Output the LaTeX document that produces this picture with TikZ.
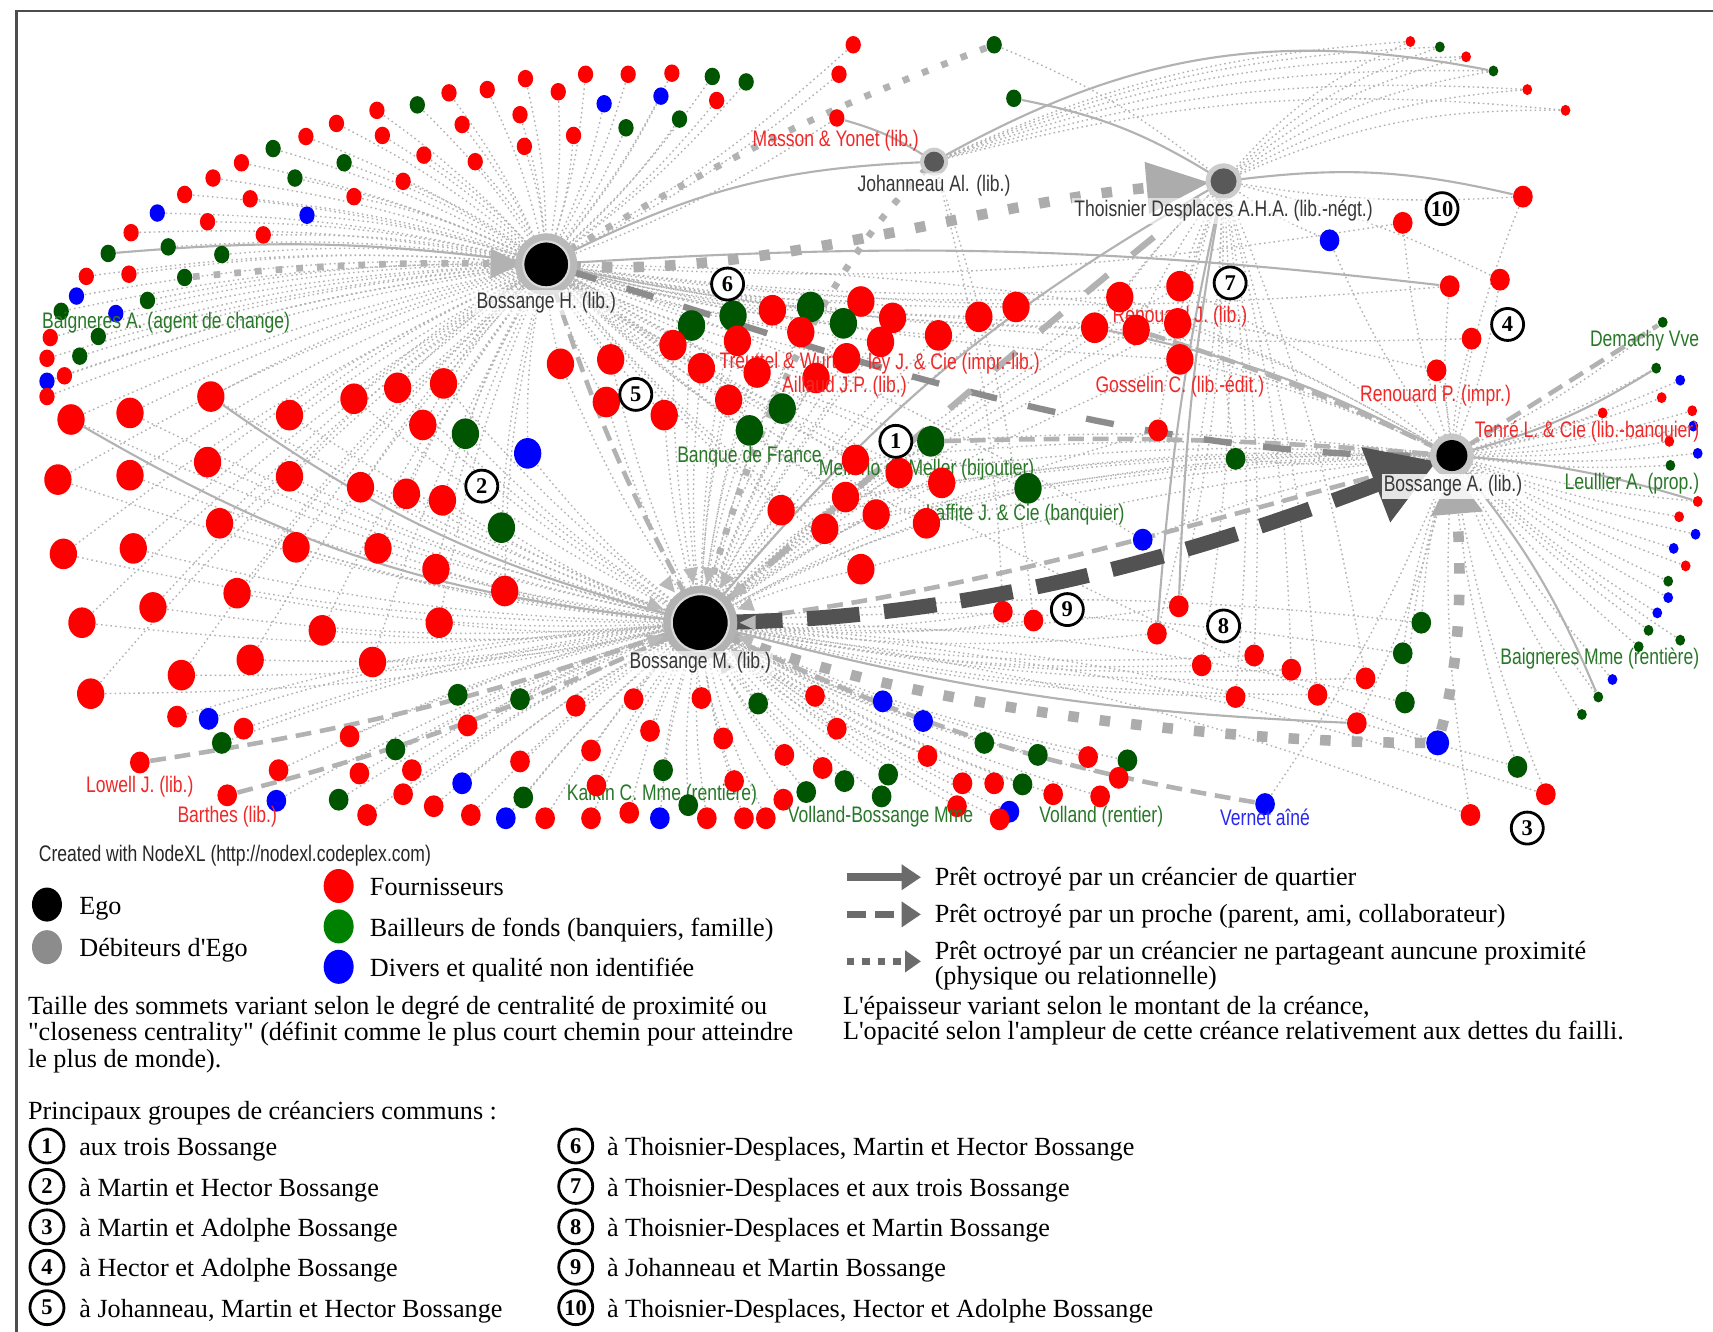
\documentclass[tikz,border=0pt]{standalone}
\usepackage{fontspec}
\setmainfont{Liberation Serif}
\newfontfamily\labfam[FakeStretch=0.78]{Liberation Sans}
\font\lgraw="Liberation Serif" at 7.45pt
\usetikzlibrary{arrows.meta,shapes.geometric}
\pgfdeclarelayer{bg}\pgfdeclarelayer{lab}\pgfdeclarelayer{top}
\pgfsetlayers{bg,lab,main,top}
\definecolor{cR}{RGB}{255,0,0}
\definecolor{cG}{RGB}{0,85,0}
\definecolor{cB}{RGB}{0,0,255}
\definecolor{tR}{RGB}{240,40,40}
\definecolor{tG}{RGB}{40,120,40}
\definecolor{tB}{RGB}{40,40,240}
\definecolor{lgG}{RGB}{0,128,0}
\definecolor{hubtxt}{RGB}{55,55,55}
\newcommand\labsz{\labfam\fontsize{6.4}{7.5}\selectfont}
\newcommand\numsz{\fontsize{6.4}{6.4}\selectfont\bfseries}
\def\lstTL{781/41/R,768/68/R,766/108/R,656/92/R,622/109/G,652/70/G,683/75/G,615/67/R,605/88/B,575/68/R,573/117/G,553/95/B,536/68/R,525/124/R,511/84/R,481/72/R,476/105/R,480/134/R,446/82/R,435/148/R,423/114/R,411/85/R,388/142/R,382/96/G,369/166/R,350/124/R,345/101/R,324/180/R,315/149/G,308/113/R,281/197/B,280/125/R,270/163/G,250/136/G,241/215/R,229/182/R,221/149/R,203/233/G,195/163/R,190/203/R,169/178/R,154/226/G,144/195/B,135/275/G,120/213/R,118/251/R,106/287/B,99/232/G,90/308/G,79/253/R,73/326/G,70/271/B,59/344/R,56/285/G,46/309/R,43/328/R,43/349/B,43/363/R}
\def\lstLM{65/384/R,119/378/R,193/363/R,265/380/R,324/365/R,364/355/R,406/351/R,387/389/R,426/397/G,483/415/B,53/439/R,119/435/R,190/423/R,265/436/R,330/446/R,372/452/R,405/458/R,459/483/G,201/479/R,58/507/R,122/502/R,271/501/R,346/502/R,399/521/R,462/541/R,217/543/R,140/556/R,75/570/R,295/577/R,402/570/R,229/604/R,341/606/R,166/618/R,83/635/R}
\def\lstBL{419/636/G,476/640/G,527/646/R,580/640/R,642/639/R,694/644/G,746/637/R,162/656/R,191/658/B,223/667/R,203/680/G,320/674/R,428/664/R,362/686/G,255/705/R,329/708/R,377/705/R,476/697/R,541/687/R,595/669/R,662/676/R,766/667/R,253/733/B,310/732/G,369/727/R,423/717/B,479/730/G,546/719/R,607/705/G,672/715/R,718/691/R,753/703/R,773/715/G,336/746/R,397/738/R,431/746/R,463/749/B,499/749/R,541/749/R,576/744/R,604/749/B,630/737/G,647/749/R,681/749/R,701/749/R,717/732/R,738/725/G,808/642/B,845/660/B,901/680/G,849/692/R,950/691/G,996/693/R,1032/696/G,1024/712/R,813/709/G,807/729/G,881/717/R,910/717/R,936/718/G,964/727/R,1007/729/R,876/738/R,924/743/B,915/750/R}
\def\lstCC{633/298/G,671/289/G,707/284/R,742/281/G,788/276/R,772/296/G,817/291/R,733/304/R,675/312/R,616/316/R,806/313/R,859/307/R,896/290/R,930/281/R,559/329/R,513/333/R,642/337/R,693/341/R,747/346/R,555/368/R,608/380/R,667/366/R,716/374/G,686/394/G,775/328/R}
\def\lstCO{852/404/G,783/421/R,823/433/R,862/442/R,941/447/G,774/455/R,715/467/R,802/471/R,848/479/R,755/484/R,788/521/R}
\def\lstRJ{1025/272/R,1080/262/R,1002/300/R,1040/302/R,1078/296/R,1080/329/R}
\def\lstMX{1060/394/R/TD/BM,1131/420/G/TD/BA,1046/494/B/BA/BH,1284/204/R/BH/BA,1217/220/B/TD/BA,1394/180/R/TD/BA,1327/262/R/BH/BA,1373/256/R/BA/TD,1347/310/R/BH/BA,1315/339/R/BA/BH,918/560/R/BM/JO,946/568/R/BM/JO,1079/555/R/BM/TD,1059/580/R/BM/TD,1100/609/R/BM/TD,1148/600/R/BM/TD,1182/613/R/BM/TD,1131/638/R/BM/TD,1206/636/R/BM/TD,1250/621/R/BM/TD,1242/662/R/BM/BA,1301/570/G/BA/BM,1284/598/G/BA/BM,1286/643/G/BA/BM,1389/702/G/BA/BM,1415/727/R/BA/BM,1346/746/R/BA/BM}
\def\lstRF{1522/295/G,1516/337/G,1538/348/B,1521/364/R,1467/378/R,1549/376/R,1550/390/B,1528/404/R,1554/415/B,1529/426/G,1554/459/R,1537/473/R,1552/489/B,1532/502/B,1543/518/R,1527/532/G,1527/547/B,1517/561/B,1509/577/G,1538/586/G,1500/592/G,1476/622/B,1463/638/G,1448/654/G}
\def\lstTR{1291/38/R,1318/43/G,1342/52/R,1367/65/G,1398/82/R,1433/101/R}
\begin{document}
\begin{tikzpicture}[x=0.10925mm,y=-0.10925mm,
 dT/.style={ellipse,inner sep=0,minimum width=0.98mm,minimum height=1.09mm},
 dS/.style={ellipse,inner sep=0,minimum width=1.53mm,minimum height=1.75mm},
 dM/.style={ellipse,inner sep=0,minimum width=1.97mm,minimum height=2.19mm},
 dL/.style={ellipse,inner sep=0,minimum width=2.73mm,minimum height=3.06mm},
 hub/.style={circle,inner sep=0},
 wedge/.style={isosceles triangle,isosceles triangle apex angle=50,inner sep=0,minimum size=1.5mm,fill=gray!55,anchor=apex},
 ed/.style={draw=gray!60,line width=0.4pt,dash pattern=on 0.45pt off 0.9pt},
 es/.style={draw=gray!60,line width=0.6pt},
 edd/.style={draw=gray!60,line width=1.3pt,dash pattern=on 4.5pt off 2.5pt},
 sq/.style={draw=gray!60,line width=1.9pt,dash pattern=on 1.9pt off 4pt},
 sqbig/.style={draw=gray!65,line width=3pt,dash pattern=on 3pt off 6pt},
 bigd/.style={draw=black!68,line width=4.3pt,dash pattern=on 15pt off 7pt},
 darkd/.style={draw=black!45,line width=1.8pt,dash pattern=on 8pt off 9pt},
 lab/.style={font=\labsz,inner sep=0.3pt},
 hlab/.style={font=\labsz,inner sep=0.6pt,text=hubtxt,fill=white,fill opacity=0.6,text opacity=1},
 lg/.style={font=\lgraw,anchor=west,inner sep=0,text height=5.3pt,text depth=1.5pt,yshift=-0.3mm},
 num/.style={circle,draw=black,line width=0.8pt,fill=white,minimum size=3.2mm,inner sep=0,font=\numsz},
]
\useasboundingbox (0,0) rectangle (1568,1219);

% ---------- hubs
\node[hub,fill=gray!55,minimum size=6.2mm] (BHh) at (500,242) {};
\node[hub,fill=gray!60,minimum size=7.4mm] (BMh) at (641,570) {};
\foreach \a [count=\k] in {-60,-40,-20,0,20,40,60,80,100,130,160,200}
 \node[wedge,rotate=\a+180] (bmw\k) at (BMh.\a) {};
\node[hub,fill=black,draw=gray!30,line width=0.6pt,minimum size=4.6mm] (BH) at (500,242) {};
\node[hub,fill=black,draw=gray!30,line width=0.6pt,minimum size=5.7mm] (BM) at (641,570) {};
\node[hub,fill=gray!45,minimum size=4.4mm] (BAh) at (1329,417) {};
\node[hub,fill=black,minimum size=3.1mm] (BA) at (1329,417) {};
\node[hub,fill=gray!40,minimum size=2.8mm] (JOh) at (855,148) {};
\node[hub,fill=black!65,minimum size=2.0mm] (JO) at (855,148) {};
\node[hub,fill=gray!40,minimum size=3.6mm] (TDh) at (1120,166) {};
\node[hub,fill=black!65,minimum size=2.6mm] (TD) at (1120,166) {};

% ---------- creditors
\foreach \x/\y/\c [count=\i] in \lstTL {\node[dS,fill=c\c] (tl\i) at (\x,\y) {};}
\foreach \x/\y/\c [count=\i] in \lstLM {\node[dL,fill=c\c] (lm\i) at (\x,\y) {};}
\foreach \x/\y/\c [count=\i] in \lstBL {\node[dM,fill=c\c] (bl\i) at (\x,\y) {};}
\foreach \x/\y/\c [count=\i] in \lstCC {\node[dL,fill=c\c] (cc\i) at (\x,\y) {};}
\foreach \x/\y/\c [count=\i] in \lstCO {\node[dL,fill=c\c] (co\i) at (\x,\y) {};}
\foreach \x/\y/\c [count=\i] in \lstRJ {\node[dL,fill=c\c] (rj\i) at (\x,\y) {};}
\foreach \x/\y/\c/\ha/\hb [count=\i] in \lstMX {\node[dM,fill=c\c] (mx\i) at (\x,\y) {};}
\foreach \x/\y/\c [count=\i] in \lstRF {\node[dT,fill=c\c] (rf\i) at (\x,\y) {};}
\foreach \x/\y/\c [count=\i] in \lstTR {\node[dT,fill=c\c] (tr\i) at (\x,\y) {};}
\node[dS,fill=cG] (gJa) at (910,41) {};
\node[dS,fill=cG] (gJb) at (928,90) {};
\node[dS,fill=cG] (baigA) at (169,254) {};
\node[dM,fill=cR] (lowell) at (128,698) {};
\node[dM,fill=cR] (barthes) at (208,728) {};
\node[dM,fill=cB] (vernet) at (1158,736) {};
\node[dM,fill=cB,minimum width=2.3mm,minimum height=2.5mm] (bq) at (1316,680) {};

% ---------- connectors
\begin{pgfonlayer}{bg}
\fill[white] (0,0) rectangle (1568,1219);
\foreach \x/\y/\c [count=\i] in \lstTL {\draw[ed] (tl\i) to[bend left=6] (BH);}
\foreach \x/\y/\c [count=\i] in \lstLM {\draw[ed] (lm\i) to[bend left=6] (BH); \draw[ed] (lm\i) to[bend right=6] (BM);}
\foreach \x/\y/\c [count=\i] in \lstBL {\draw[ed] (bl\i) to[bend left=6] (BM);}
\foreach \x/\y/\c [count=\i] in \lstCC {\draw[ed] (cc\i) to[bend left=5] (BH); \draw[ed] (cc\i) to[bend right=5] (BM);}
\foreach \x/\y/\c [count=\i] in \lstCO {\draw[ed] (co\i) to[bend left=5] (BH); \draw[ed] (co\i) to[bend right=5] (BM); \draw[ed] (co\i) to[bend left=5] (BA);}
\foreach \x/\y/\c [count=\i] in \lstRJ {\draw[ed] (rj\i) to[bend left=5] (TD); \draw[ed] (rj\i) to[bend left=5] (BH); \draw[ed] (rj\i) to[bend right=5] (BM); \draw[ed] (rj\i) to[bend left=5] (BA);}
\foreach \x/\y/\c/\ha/\hb [count=\i] in \lstMX {\draw[ed] (mx\i) to[bend left=6] (\ha); \draw[ed] (mx\i) to[bend right=6] (\hb);}
\foreach \x/\y/\c [count=\i] in \lstRF {\draw[ed] (rf\i) to[bend left=5] (BA);}
\foreach \x/\y/\c [count=\i] in \lstTR {\draw[ed] (tr\i) to[bend right=12] (TD); \draw[ed] (tr\i) to[bend right=10] (JO);}
\draw[ed] (gJa) to[bend left=8] (TD);
\draw[ed] (vernet) to[bend right=6] (BA);
\draw[ed] (bq) to[bend left=6] (BH);
% solid
\draw[es] (BH) to[bend left=12] (JO);
\draw[es] (tl3) to[bend left=8] (JO);
\draw[es] (JO) to[bend left=20] (tr4);
\draw[es] (gJb) to[bend left=10] (TD);
\draw[es] (TD) to[bend left=10] (mx6);
\draw[es] (BH) to[bend left=5] (mx7);
\draw[es] (rj3) to[bend left=8] (BA);
\draw[es] (TD) to[bend right=4] (mx13);
\draw[es] (TD) to[bend right=4] (mx14);
\draw[es] (lm3) to[bend right=10] (BM);
\draw[es] (lm1) to[bend right=12] (BM);
\draw[es] (tl48) to[bend left=6] (BH);
\draw[es] (BM) to[bend right=6] (mx21);
\draw[es] (BA) to[bend right=8] (rf2);
\draw[es] (BA) to[bend left=6] (rf11);
\draw[es] (BA) to[bend left=8] (rf23);
\draw[es] (BM) to[bend left=10] (TD);
% dashed
\draw[edd] (lowell) to[bend right=5] (BM);
\draw[edd] (barthes) to[bend right=5] (BM);
\draw[edd] (BH) to[bend right=5] (BM);
\draw[edd] (vernet) to[bend left=8] (BM);
\draw[edd] (BA) -- (rf1);
\draw[edd] (co1) to[bend left=3] (BA);
\draw[edd] (rj4) to[bend left=4] (BA);
\draw[edd] (BM) .. controls (880,545) and (1090,480) .. (BA);
% square-dotted
\draw[sq] (gJa) to[bend right=5] (BH);
\draw[sq] (BM) .. controls (700,350) and (780,220) .. (JO);
\draw[sq,-{Triangle[length=9pt,width=8pt]}] (baigA) to[bend left=3] (BH);
\draw[sqbig] (bq) .. controls (1100,680) and (800,640) .. (BM);
\draw[sqbig,-{Triangle[length=12pt,width=14pt]}] (bq) .. controls (1338,600) and (1338,520) .. (BA);
\draw[sqbig,-{Triangle[length=18pt,width=14pt]}] (BH) .. controls (700,255) and (900,185) .. (TD);
% heavy dashed
\draw[darkd] (BH) .. controls (700,300) and (1000,420) .. (BA);
\draw[darkd,draw=gray!60] (BM) .. controls (760,470) and (950,300) .. (TD);
\draw[bigd,-{Triangle[length=18.6pt,width=21.7pt]}] (BM) .. controls (900,565) and (1100,505) .. (BA);
\end{pgfonlayer}

% ---------- labels partly hidden by creditors
\begin{pgfonlayer}{lab}
\node[lab,text=tR,anchor=west] (lTW) at (657,330) {Treuttel \& Wurtz};
\node[lab,text=tR,anchor=west] (lLJ) at (793,333) {ley J. \& Cie (impr.-lib.)};
\node[lab,text=tG,anchor=west] (lMe) at (748,430) {Mellerio dit Meller (bijoutier)};
\node[lab,text=tG,anchor=west] (lLa) at (846,471) {Laffite J. \& Cie (banquier)};
\node[lab,text=tG] (lKa) at (606,727) {Kalkin C. Mme (rentière)};
\node[lab,text=tR] (lRJ) at (1080,290) {Renouard J. (lib.)};
\node[lab,text=tG] (lVo) at (1008,748) {Volland (rentier)};
\end{pgfonlayer}

% ---------- labels on top
\begin{pgfonlayer}{top}
\node[hlab] (lBH) at (500,277) {Bossange H. (lib.)};
\node[hlab] (lBM) at (641,607) {Bossange M. (lib.)};
\node[hlab,fill opacity=0.85] (lBA) at (1330,445) {Bossange A. (lib.)};
\node[hlab] (lJO) at (855,170) {Johanneau Al. (lib.)};
\node[hlab] (lTD) at (1120,193) {Thoisnier Desplaces A.H.A. (lib.-négt.)};
\node[lab,text=tR] (lMa) at (765,129) {Masson \& Yonet (lib.)};
\node[lab,text=tG] (lBa) at (152,295) {Baigneres A. (agent de change)};
\node[lab,text=tR] (lAi) at (773,354) {Aillaud J.P. (lib.)};
\node[lab,text=tG] (lBF) at (686,418) {Banque de France};
\node[lab,text=tR] (lGo) at (1080,354) {Gosselin C. (lib.-édit.)};
\node[lab,text=tR] (lRP) at (1314,362) {Renouard P. (impr.)};
\node[lab,text=tG,anchor=east] (lDe) at (1557,312) {Demachy Vve};
\node[lab,text=tR,anchor=east] (lTe) at (1557,395) {Tenré L. \& Cie (lib.-banquier)};
\node[lab,text=tG,anchor=east] (lLe) at (1557,443) {Leullier A. (prop.)};
\node[lab,text=tG,anchor=east] (lBM2) at (1557,603) {Baigneres Mme (rentière)};
\node[lab,text=tR] (lLo) at (128,720) {Lowell J. (lib.)};
\node[lab,text=tR] (lBt) at (208,748) {Barthes (lib.)};
\node[lab,text=tG] (lVB) at (806,748) {Volland-Bossange Mme};
\node[lab,text=tB] (lVe) at (1158,748) {Vernet aîné};
\node[lab,text=black!85,anchor=west] (lNX) at (34,783) {Created with NodeXL (http://nodexl.codeplex.com)};
\foreach \n/\x/\y in {1/820/404,2/441/445,3/1398/758,4/1380/297,5/582/361,6/666/260,7/1126/259,8/1120/573,9/977/558,10/1320/191}
 \node[num] (g\n) at (\x,\y) {\n};
\draw[line width=0.8pt,black!70] (15,1219) -- (15,10) -- (1568,10);
\end{pgfonlayer}

% ---------- legend
\node[ellipse,fill=black,minimum width=3.0mm,minimum height=3.4mm,inner sep=0] (kEgo) at (43,828) {};
\node[lg] (tEgo) at (72,828) {Ego};
\node[ellipse,fill=black!45,minimum width=3.0mm,minimum height=3.4mm,inner sep=0] (kDeb) at (43,867) {};
\node[lg] (tDeb) at (72,867) {Débiteurs d'Ego};
\node[ellipse,fill=cR,minimum width=3.0mm,minimum height=3.4mm,inner sep=0] (kFo) at (310,811) {};
\node[lg] (tFo) at (338,811) {Fournisseurs};
\node[ellipse,fill=lgG,minimum width=3.0mm,minimum height=3.4mm,inner sep=0] (kBa) at (310,848) {};
\node[lg] (tBa) at (338,848) {Bailleurs de fonds (banquiers, famille)};
\node[ellipse,fill=cB,minimum width=3.0mm,minimum height=3.4mm,inner sep=0] (kDi) at (310,885) {};
\node[lg] (tDi) at (338,885) {Divers et qualité non identifiée};

\coordinate (a1s) at (775,803); \coordinate (a1e) at (843,803);
\coordinate (a2s) at (775,837); \coordinate (a2e) at (843,837);
\coordinate (a3s) at (775,880); \coordinate (a3e) at (843,880);
\draw[line width=2.2pt,black!58,-{Triangle[length=5.5pt,width=7pt]}] (a1s) -- (a1e);
\draw[line width=2.2pt,black!58,dash pattern=on 5.5pt off 2.5pt,-{Triangle[length=5.5pt,width=7pt]}] (a2s) -- (a2e);
\draw[line width=2.2pt,black!58,dash pattern=on 2.2pt off 2.2pt,-{Triangle[length=4.5pt,width=6pt]}] (a3s) -- (a3e);
\node[lg] (tA1) at (855,802) {Prêt octroyé par un créancier de quartier};
\node[lg] (tA2) at (855,836) {Prêt octroyé par un proche (parent, ami, collaborateur)};
\node[lg] (tA3) at (855,869) {Prêt octroyé par un créancier ne partageant auncune proximité};
\node[lg] (tA4) at (855,892) {(physique ou relationnelle)};
\node[lg] (tE1) at (771,920) {L'épaisseur variant selon le montant de la créance,};
\node[lg] (tE2) at (771,943) {L'opacité selon l'ampleur de cette créance relativement aux dettes du failli.};
\node[lg] (tT1) at (25,920) {Taille des sommets variant selon le degré de centralité de proximité ou};
\node[lg] (tT2) at (25,944) {"closeness centrality" (définit comme le plus court chemin pour atteindre};
\node[lg] (tT3) at (25,968) {le plus de monde).};
\node[lg] (tPG) at (25,1016) {Principaux groupes de créanciers communs :};
\foreach \n/\y/\t in {1/1049/aux trois Bossange,2/1086/à Martin et Hector Bossange,3/1123/à Martin et Adolphe Bossange,4/1160/à Hector et Adolphe Bossange,5/1197/{à Johanneau, Martin et Hector Bossange}}{
 \node[num,minimum size=3.4mm] (k\n) at (43,\y) {\n};
 \node[lg] (t\n) at (72,\y) {\t};
}
\foreach \n/\y/\t in {6/1049/{à Thoisnier-Desplaces, Martin et Hector Bossange},7/1086/à Thoisnier-Desplaces et aux trois Bossange,8/1123/à Thoisnier-Desplaces et Martin Bossange,9/1160/à Johanneau et Martin Bossange,10/1197/{à Thoisnier-Desplaces, Hector et Adolphe Bossange}}{
 \node[num,minimum size=3.4mm] (k\n) at (527,\y) {\n};
 \node[lg] (t\n) at (555,\y) {\t};
}
\end{tikzpicture}
\end{document}
